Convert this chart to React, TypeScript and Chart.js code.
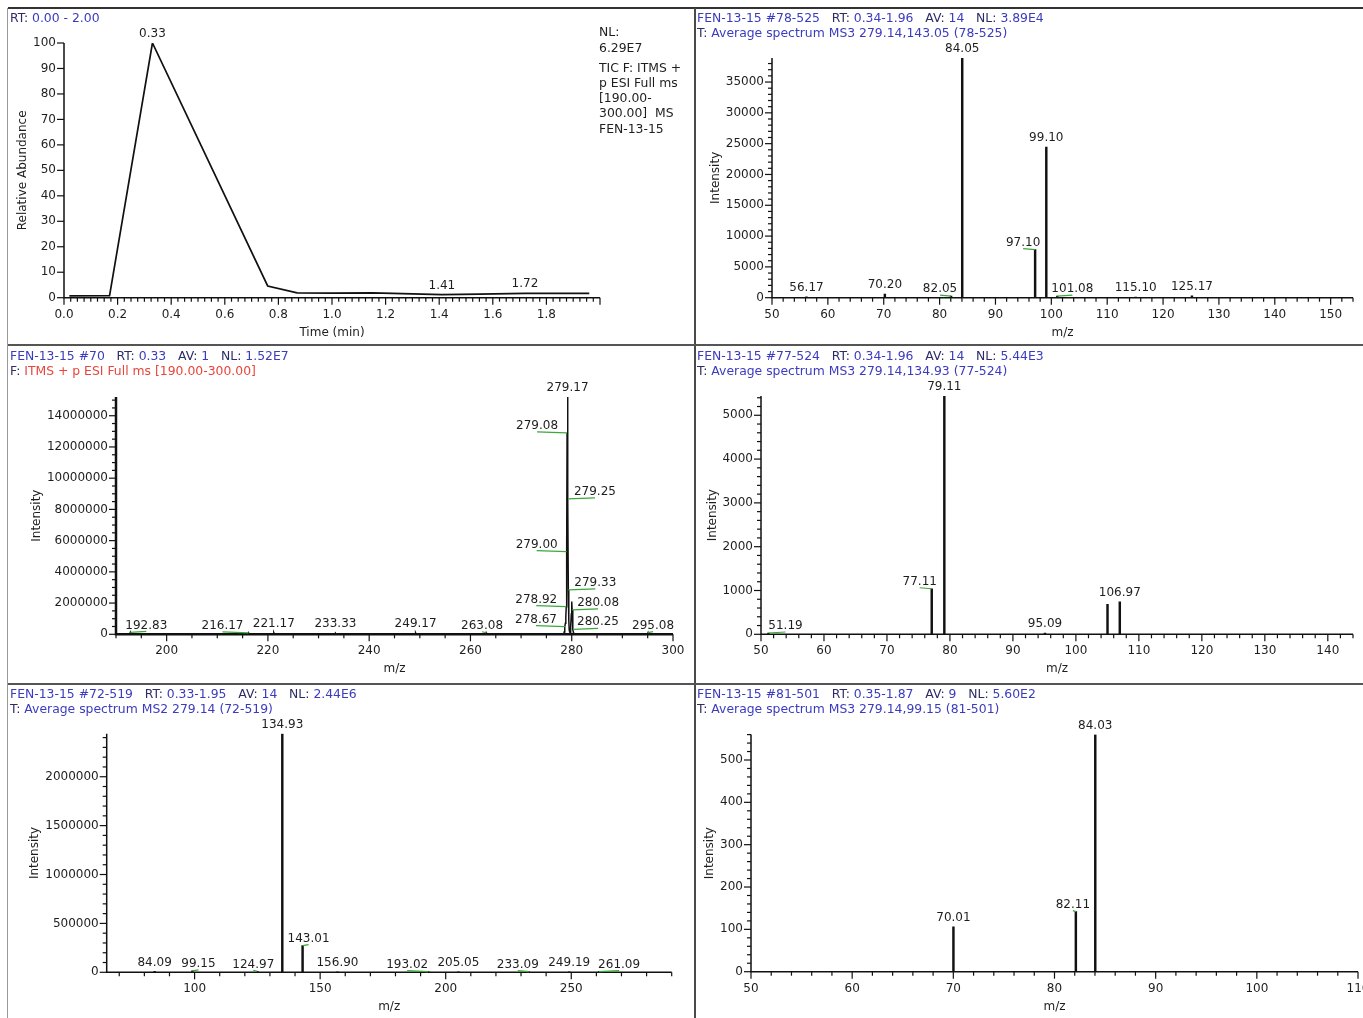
import React, { useEffect, useRef } from 'react';
import { Chart, registerables } from 'chart.js';

Chart.register(...registerables);

const FONT = '"DejaVu Sans", Verdana, sans-serif';
const BLUE = '#3b3bbf';
const NAVY = '#2c2c66';
const RED = '#e8453c';
const INK = '#1e1e1e';
const GREEN = '#3aa83a';

// ---------------- data ----------------
// Panel A: TIC chromatogram (time in min, relative abundance %)
const ticTime = [0.02, 0.17, 0.33, 0.76, 0.87, 1.0, 1.15, 1.3, 1.41, 1.55, 1.72, 1.85, 1.96];
const ticAbundance = [0.7, 0.8, 100, 4.6, 1.9, 1.8, 1.9, 1.5, 1.2, 1.4, 1.7, 1.7, 1.7];
const ticLabelled = [0.33, 1.41, 1.72];

// Panel B: MS3 279.14,143.05
const msBMz = [56.17, 70.2, 82.05, 84.05, 97.1, 99.1, 101.08, 115.1, 125.17];
const msBInt = [150, 600, 250, 38900, 7800, 24450, 250, 120, 300];
const msBLabelled = [56.17, 70.2, 82.05, 84.05, 97.1, 99.1, 101.08, 115.1, 125.17];

// Panel C: full MS (profile)
const fullMz = [
  190.0, 192.7, 192.83, 192.95, 216.05, 216.17, 216.3, 221.05, 221.17, 221.3,
  233.2, 233.33, 233.45, 249.05, 249.17, 249.3, 262.95, 263.08, 263.2,
  278.42, 278.5, 278.58, 278.67, 278.75, 278.83, 278.92, 279.0, 279.08, 279.17,
  279.25, 279.33, 279.42, 279.5, 279.58, 279.67, 279.75, 279.83, 279.92, 280.0,
  280.08, 280.17, 280.25, 280.33, 280.42, 294.95, 295.08, 295.2, 300.0,
];
const fullInt = [
  0, 0, 120000, 0, 0, 90000, 0, 0, 100000, 0,
  0, 80000, 0, 0, 90000, 0, 0, 100000, 0,
  0, 150000, 250000, 490000, 700000, 1100000, 1770000, 5290000, 12900000, 15200000,
  8670000, 2840000, 900000, 300000, 150000, 120000, 200000, 500000, 1300000, 2100000,
  1560000, 800000, 320000, 120000, 0, 0, 110000, 0, 0,
];
const fullLabelled = [
  192.83, 216.17, 221.17, 233.33, 249.17, 263.08, 278.67, 278.92, 279.0, 279.08,
  279.17, 279.25, 279.33, 280.08, 280.25, 295.08,
];

// Panel D: MS3 279.14,134.93
const msDMz = [51.19, 77.11, 79.11, 95.09, 105.02, 106.97];
const msDInt = [30, 1040, 5440, 25, 684, 743];
const msDLabelled = [51.19, 77.11, 79.11, 95.09, 106.97];

// Panel E: MS2 279.14
const msEMz = [84.09, 99.15, 124.97, 134.93, 143.01, 156.9, 193.02, 205.05, 233.09, 249.19, 261.09];
const msEInt = [9000, 14000, 9000, 2440000, 272000, 6000, 7000, 5000, 6000, 5000, 7000];
const msELabelled = [84.09, 99.15, 124.97, 134.93, 143.01, 156.9, 193.02, 205.05, 233.09, 249.19, 261.09];

// Panel F: MS3 279.14,99.15
const msFMz = [70.01, 82.11, 84.03];
const msFInt = [106, 142, 560];
const msFLabelled = [70.01, 82.11, 84.03];

// label offsets (px) for labels drawn with a leader line
const offB: Record<string, number[]> = { '82.05': [-11, 0], '97.10': [-12, 0], '101.08': [15, 0] };
const offC: Record<string, number[]> = {
  '192.83': [16, 0], '216.17': [-26, 0], '263.08': [-4, 0], '278.67': [-29, 0], '278.92': [-30, 0],
  '279.00': [-30, 0], '279.08': [-30, 0], '279.25': [27, 0], '279.33': [27, 0], '280.08': [26, 0],
  '280.25': [25, 0], '295.08': [5, 0],
};
const offD: Record<string, number[]> = { '51.19': [17, 0], '77.11': [-12, 0] };
const offE: Record<string, number[]> = {
  '99.15': [6, 0], '124.97': [-4, 0], '143.01': [6, 0], '193.02': [-21, 0], '233.09': [-11, 0], '261.09': [20, 0],
};
const offF: Record<string, number[]> = { '82.11': [-3, 0] };

// ---------------- plugin ----------------
const isMult = (v: number, s: number) => Math.abs(v / s - Math.round(v / s)) < 1e-6;

const msPlugin = {
  id: 'msAxes',
  afterDatasetsDraw(chart: any) {
    const o = chart.options.plugins.msAxes;
    if (!o) return;
    const ctx = chart.ctx as CanvasRenderingContext2D;
    const xs = chart.scales.x;
    const ys = chart.scales.y;
    const { left, right, top, bottom } = chart.chartArea;
    ctx.save();
    ctx.lineCap = 'butt';
    ctx.strokeStyle = '#111';
    ctx.lineWidth = o.axisWidth;
    ctx.beginPath();
    ctx.moveTo(left, top);
    ctx.lineTo(left, bottom);
    ctx.lineTo(right, bottom);
    ctx.stroke();

    ctx.lineWidth = 1.2;
    ctx.font = `12px ${FONT}`;
    ctx.fillStyle = INK;
    // x ticks
    const xStart = Math.ceil(o.xMin / o.xMinor - 1e-6) * o.xMinor;
    const nX = Math.round((o.xMax - xStart) / o.xMinor);
    ctx.textAlign = 'center';
    ctx.textBaseline = 'middle';
    for (let i = 0; i <= nX; i++) {
      const v = xStart + i * o.xMinor;
      if (v > o.xMax + 1e-6) break;
      const px = xs.getPixelForValue(v);
      const major = isMult(v, o.xLabel);
      ctx.beginPath();
      ctx.moveTo(px, bottom);
      ctx.lineTo(px, bottom + (major ? 7 : 4));
      ctx.stroke();
      if (major && v <= o.xLabelMax + 1e-6) ctx.fillText(v.toFixed(o.xDec), px, bottom + 17);
    }
    // y ticks
    ctx.textAlign = 'right';
    let maxW = 0;
    const nY = Math.round(o.yMax / o.yMinor);
    for (let i = 0; i <= nY; i++) {
      const v = i * o.yMinor;
      if (v > o.yMax + 1e-6) break;
      const py = ys.getPixelForValue(v);
      const major = isMult(v, o.yLabel);
      ctx.beginPath();
      ctx.moveTo(left - (major ? 7 : 4), py);
      ctx.lineTo(left, py);
      ctx.stroke();
      if (major) {
        const t = v.toFixed(0);
        ctx.fillText(t, left - 8, py);
        maxW = Math.max(maxW, ctx.measureText(t).width);
      }
    }
    // titles
    ctx.textAlign = 'center';
    ctx.fillText(o.xTitle, (left + right) / 2, bottom + 35);
    ctx.save();
    ctx.translate(left - 8 - maxW - 10, (top + bottom) / 2);
    ctx.rotate(-Math.PI / 2);
    ctx.fillText(o.yTitle, 0, 0);
    ctx.restore();

    // peak labels
    for (const p of o.peaks) {
      const ax = xs.getPixelForValue(p.x);
      const ay = ys.getPixelForValue(p.y);
      const cx = ax + p.dx;
      const cy = ay + (p.leader ? -7 : -9) + p.dy;
      if (p.leader) {
        ctx.strokeStyle = GREEN;
        ctx.lineWidth = 1.2;
        ctx.beginPath();
        ctx.moveTo(cx, cy + 6);
        ctx.lineTo(ax, ay);
        ctx.stroke();
      }
      ctx.fillStyle = INK;
      ctx.fillText(p.text, cx, cy);
    }
    ctx.restore();
  },
};

// ---------------- panels ----------------
type Seg = [string, string];
interface PanelCfg {
  left: number; top: number; w: number; h: number;
  pad: { left: number; right: number; top: number; bottom: number };
  kind: 'line' | 'bar';
  xs: number[]; ys: number[]; labelled: number[];
  offsets: Record<string, number[]>;
  xMin: number; xMax: number; yMax: number;
  xMinor: number; xLabel: number; xLabelMax: number; xDec: number;
  yMinor: number; yLabel: number;
  xTitle: string; yTitle: string;
  header: Seg[][];
  lineWidth: number; axisWidth: number;
  side?: string[][];
}

const panels: PanelCfg[] = [
  {
    left: 8, top: 8, w: 687, h: 337, pad: { left: 56, right: 95, top: 35, bottom: 47.3 },
    kind: 'line', xs: ticTime, ys: ticAbundance, labelled: ticLabelled, offsets: {},
    xMin: 0, xMax: 2, yMax: 100, xMinor: 0.025, xLabel: 0.2, xLabelMax: 1.8, xDec: 1,
    yMinor: 10, yLabel: 10, xTitle: 'Time (min)', yTitle: 'Relative Abundance',
    header: [[['RT: ', NAVY], ['0.00 - 2.00', BLUE]]],
    lineWidth: 1.7, axisWidth: 1.5,
    side: [['NL:', '6.29E7'], ['TIC F: ITMS +', 'p ESI Full ms', '[190.00-', '300.00]  MS', 'FEN-13-15']],
  },
  {
    left: 695, top: 8, w: 668, h: 337, pad: { left: 77, right: 10, top: 50, bottom: 47.3 },
    kind: 'bar', xs: msBMz, ys: msBInt, labelled: msBLabelled, offsets: offB,
    xMin: 50, xMax: 154, yMax: 38900, xMinor: 2, xLabel: 10, xLabelMax: 154, xDec: 0,
    yMinor: 1000, yLabel: 5000, xTitle: 'm/z', yTitle: 'Intensity',
    header: [
      [['FEN-13-15 #78-525', BLUE], ['   RT: ', NAVY], ['0.34-1.96', BLUE], ['   AV: ', NAVY], ['14', BLUE], ['   NL: ', NAVY], ['3.89E4', BLUE]],
      [['T: ', NAVY], ['Average spectrum MS3 279.14,143.05 (78-525)', BLUE]],
    ],
    lineWidth: 1.8, axisWidth: 1.5,
  },
  {
    left: 8, top: 345, w: 687, h: 339, pad: { left: 108, right: 22, top: 52, bottom: 49.7 },
    kind: 'line', xs: fullMz, ys: fullInt, labelled: fullLabelled, offsets: offC,
    xMin: 190, xMax: 300, yMax: 15200000, xMinor: 5, xLabel: 20, xLabelMax: 300, xDec: 0,
    yMinor: 500000, yLabel: 2000000, xTitle: 'm/z', yTitle: 'Intensity',
    header: [
      [['FEN-13-15 #70', BLUE], ['   RT: ', NAVY], ['0.33', BLUE], ['   AV: ', NAVY], ['1', BLUE], ['   NL: ', NAVY], ['1.52E7', BLUE]],
      [['F: ', NAVY], ['ITMS + p ESI Full ms [190.00-300.00]', RED]],
    ],
    lineWidth: 1.5, axisWidth: 2.5,
  },
  {
    left: 695, top: 345, w: 668, h: 339, pad: { left: 66, right: 10, top: 51, bottom: 49.7 },
    kind: 'bar', xs: msDMz, ys: msDInt, labelled: msDLabelled, offsets: offD,
    xMin: 50, xMax: 144, yMax: 5440, xMinor: 2, xLabel: 10, xLabelMax: 144, xDec: 0,
    yMinor: 200, yLabel: 1000, xTitle: 'm/z', yTitle: 'Intensity',
    header: [
      [['FEN-13-15 #77-524', BLUE], ['   RT: ', NAVY], ['0.34-1.96', BLUE], ['   AV: ', NAVY], ['14', BLUE], ['   NL: ', NAVY], ['5.44E3', BLUE]],
      [['T: ', NAVY], ['Average spectrum MS3 279.14,134.93 (77-524)', BLUE]],
    ],
    lineWidth: 1.8, axisWidth: 1.5,
  },
  {
    left: 8, top: 684, w: 687, h: 334, pad: { left: 98.7, right: 23.3, top: 49.7, bottom: 45.7 },
    kind: 'bar', xs: msEMz, ys: msEInt, labelled: msELabelled, offsets: offE,
    xMin: 65, xMax: 290, yMax: 2440000, xMinor: 10, xLabel: 50, xLabelMax: 290, xDec: 0,
    yMinor: 100000, yLabel: 500000, xTitle: 'm/z', yTitle: 'Intensity',
    header: [
      [['FEN-13-15 #72-519', BLUE], ['   RT: ', NAVY], ['0.33-1.95', BLUE], ['   AV: ', NAVY], ['14', BLUE], ['   NL: ', NAVY], ['2.44E6', BLUE]],
      [['T: ', NAVY], ['Average spectrum MS2 279.14 (72-519)', BLUE]],
    ],
    lineWidth: 1.8, axisWidth: 1.5,
  },
  {
    left: 695, top: 684, w: 668, h: 334, pad: { left: 56, right: 5, top: 50.6, bottom: 46.3 },
    kind: 'bar', xs: msFMz, ys: msFInt, labelled: msFLabelled, offsets: offF,
    xMin: 50, xMax: 110, yMax: 560, xMinor: 2, xLabel: 10, xLabelMax: 110, xDec: 0,
    yMinor: 20, yLabel: 100, xTitle: 'm/z', yTitle: 'Intensity',
    header: [
      [['FEN-13-15 #81-501', BLUE], ['   RT: ', NAVY], ['0.35-1.87', BLUE], ['   AV: ', NAVY], ['9', BLUE], ['   NL: ', NAVY], ['5.60E2', BLUE]],
      [['T: ', NAVY], ['Average spectrum MS3 279.14,99.15 (81-501)', BLUE]],
    ],
    lineWidth: 1.8, axisWidth: 1.5,
  },
];

function Panel({ cfg }: { cfg: PanelCfg }) {
  const ref = useRef<HTMLCanvasElement>(null);
  useEffect(() => {
    const points = cfg.xs.map((x, i) => ({ x, y: cfg.ys[i] }));
    const peaks = cfg.labelled.map((v) => {
      const i = cfg.xs.findIndex((x) => Math.abs(x - v) < 1e-9);
      const text = v.toFixed(2);
      const off = cfg.offsets[text];
      return { x: v, y: cfg.ys[i], text, dx: off ? off[0] : 0, dy: off ? off[1] : 0, leader: !!off };
    });
    const dataset: any =
      cfg.kind === 'line'
        ? { type: 'line', data: points, borderColor: '#111', borderWidth: cfg.lineWidth, pointRadius: 0, tension: 0, fill: false }
        : { type: 'bar', data: points, backgroundColor: '#111', borderWidth: 0, barThickness: cfg.lineWidth };
    const chart = new Chart(ref.current as HTMLCanvasElement, {
      type: cfg.kind,
      data: { datasets: [dataset] },
      options: {
        animation: false,
        responsive: false,
        maintainAspectRatio: false,
        events: [],
        layout: { padding: cfg.pad },
        plugins: {
          legend: { display: false },
          tooltip: { enabled: false },
          title: { display: false },
          msAxes: {
            axisWidth: cfg.axisWidth,
            xMin: cfg.xMin, xMax: cfg.xMax, yMax: cfg.yMax,
            xMinor: cfg.xMinor, xLabel: cfg.xLabel, xLabelMax: cfg.xLabelMax, xDec: cfg.xDec,
            yMinor: cfg.yMinor, yLabel: cfg.yLabel,
            xTitle: cfg.xTitle, yTitle: cfg.yTitle, peaks,
          },
        } as any,
        scales: {
          x: { type: 'linear', min: cfg.xMin, max: cfg.xMax, display: false, offset: false },
          y: { type: 'linear', min: 0, max: cfg.yMax, display: false },
        },
      },
      plugins: [msPlugin],
    } as any);
    return () => chart.destroy();
  }, []);

  return (
    <div style={{ position: 'absolute', left: cfg.left, top: cfg.top, width: cfg.w, height: cfg.h, overflow: 'hidden' }}>
      <canvas ref={ref} width={cfg.w} height={cfg.h} style={{ position: 'absolute', left: 0, top: 0, display: 'block' }} />
      <div
        style={{
          position: 'absolute', left: 2, top: cfg.top === 345 ? 2.5 : 1.5, fontFamily: FONT, fontSize: 12.4,
          lineHeight: '15px', whiteSpace: 'pre',
        }}
      >
        {cfg.header.map((line, li) => (
          <div key={li}>
            {line.map((s, si) => (
              <span key={si} style={{ color: s[1] }}>{s[0]}</span>
            ))}
          </div>
        ))}
      </div>
      {cfg.side && (
        <>
          <div style={{ position: 'absolute', left: 591, top: 16, fontFamily: FONT, fontSize: 12.4, lineHeight: '16px', color: INK, whiteSpace: 'pre' }}>
            {cfg.side[0].map((t, i) => <div key={i}>{t}</div>)}
          </div>
          <div style={{ position: 'absolute', left: 591, top: 51.5, fontFamily: FONT, fontSize: 12.4, lineHeight: '15.25px', color: INK, whiteSpace: 'pre' }}>
            {cfg.side[1].map((t, i) => <div key={i}>{t}</div>)}
          </div>
        </>
      )}
    </div>
  );
}

export default function App() {
  return (
    <div style={{ position: 'absolute', left: 0, top: 0, width: 1363, height: 1018, background: '#fff', overflow: 'hidden' }}>
      {panels.map((p, i) => <Panel key={i} cfg={p} />)}
      <div style={{ position: 'absolute', left: 8, top: 7, width: 1355, height: 2, background: '#333' }} />
      <div style={{ position: 'absolute', left: 7, top: 8, width: 1, height: 1010, background: '#999' }} />
      <div style={{ position: 'absolute', left: 694, top: 8, width: 2, height: 1010, background: '#4a4a4a' }} />
      <div style={{ position: 'absolute', left: 8, top: 344, width: 1355, height: 2, background: '#555' }} />
      <div style={{ position: 'absolute', left: 8, top: 683, width: 1355, height: 2, background: '#555' }} />
    </div>
  );
}
